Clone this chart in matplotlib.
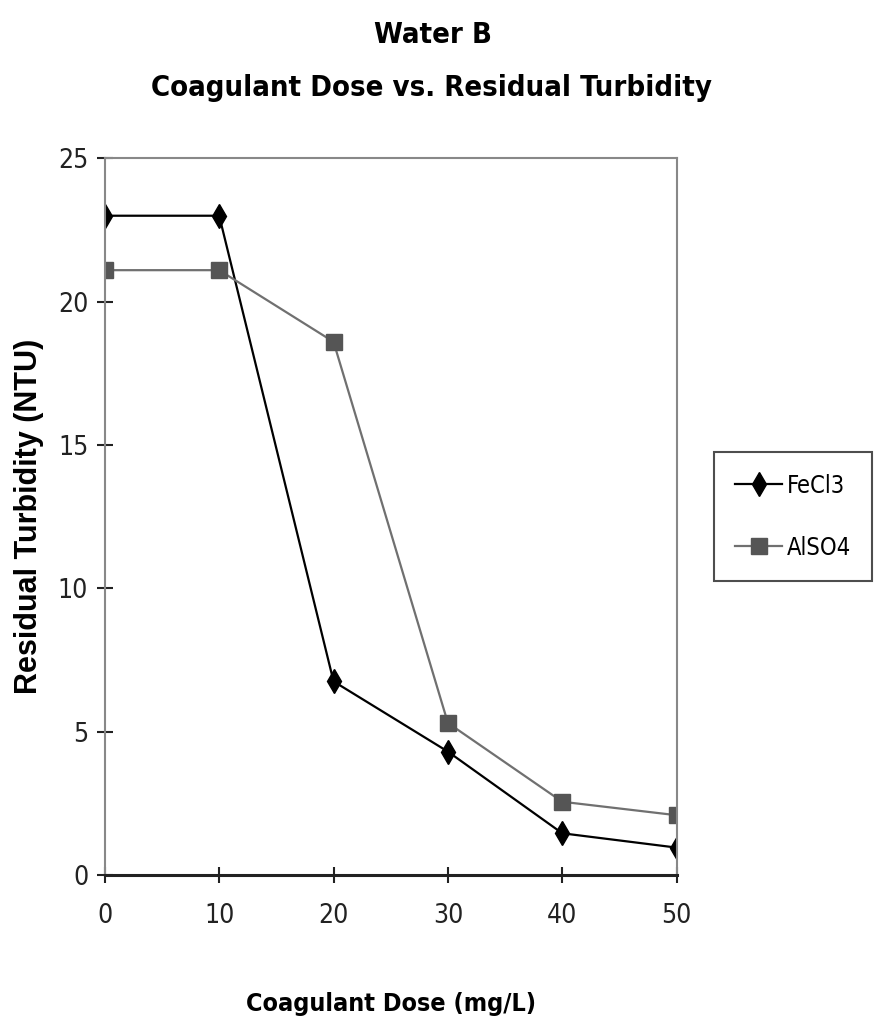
import matplotlib
matplotlib.use("Agg")
import matplotlib.pyplot as plt

# coagulant dose (mg/L)
dose = [0, 10, 20, 30, 40, 50]
# residual turbidity (NTU)
fecl3 = [23.0, 23.0, 6.75, 4.3, 1.45, 0.95]
also4 = [21.1, 21.1, 18.6, 5.3, 2.55, 2.08]

narrow = dict(family='DejaVu Sans', fontstretch='condensed')

fig = plt.figure(figsize=(8.81, 10.22), dpi=100)
ax = fig.add_axes([0.119, 0.144, 0.649, 0.701])

ax.plot(dose, fecl3, color='black', lw=1.6, marker='d', ms=12,
        markerfacecolor='black', markeredgecolor='black', label='FeCl3')
ax.plot(dose, also4, color='#707070', lw=1.6, marker='s', ms=11,
        markerfacecolor='#555555', markeredgecolor='#555555', label='AlSO4')

ax.set_xlim(0, 50)
ax.set_ylim(0, 25)
ax.set_xticks(dose)
ax.set_yticks([0, 5, 10, 15, 20, 25])
ax.tick_params(direction='inout', length=12, width=1.5, labelsize=19,
               colors='#222222')
ax.tick_params(axis='x', pad=14)
ax.tick_params(axis='y', pad=6)
for lab in ax.get_xticklabels() + ax.get_yticklabels():
    lab.set_family('DejaVu Sans')
    lab.set_stretch('condensed')

for s in ['top', 'right', 'left']:
    ax.spines[s].set_color('#888888')
    ax.spines[s].set_linewidth(1.5)
ax.spines['bottom'].set_color('#222222')
ax.spines['bottom'].set_linewidth(2.2)

ax.set_ylabel('Residual Turbidity (NTU)', fontsize=22, fontweight='bold',
              family=['Liberation Sans', 'DejaVu Sans'], labelpad=10)
ax.set_xlabel('Coagulant Dose (mg/L)', fontsize=18, fontweight='bold',
              labelpad=46, **narrow)

fig.text(0.492, 0.966, 'Water B', ha='center', va='center', fontsize=21,
         fontweight='bold', **narrow)
fig.text(0.49, 0.914, 'Coagulant Dose vs. Residual Turbidity', ha='center',
         va='center', fontsize=21, fontweight='bold', **narrow)

leg = ax.legend(loc='center left', bbox_to_anchor=(1.065, 0.5), frameon=True,
                fancybox=False, handlelength=2.0, labelspacing=1.6,
                borderpad=0.9, handletextpad=0.2, borderaxespad=0,
                prop={'family': 'DejaVu Sans', 'stretch': 'condensed', 'size': 17})
leg.get_frame().set_edgecolor('#222222')
leg.get_frame().set_linewidth(1.5)

fig.savefig('out.png', dpi=100)
